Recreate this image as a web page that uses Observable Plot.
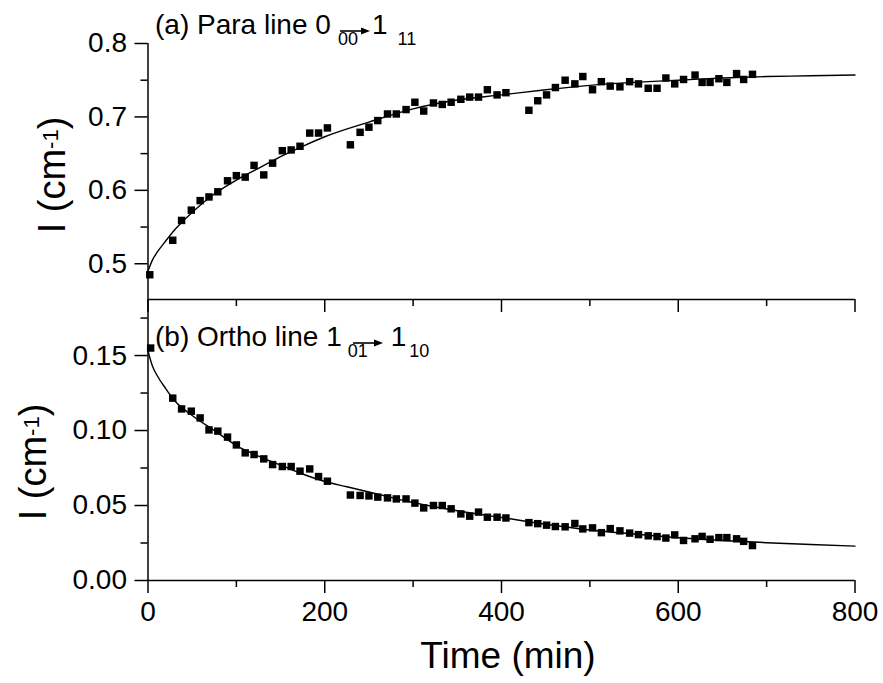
<!DOCTYPE html>
<html>
<head>
<meta charset="utf-8">
<script src="https://cdn.jsdelivr.net/npm/d3@7"></script>
<script src="https://cdn.jsdelivr.net/npm/@observablehq/plot@0.6"></script>
<style>
  html, body { margin: 0; padding: 0; background: white; }
  #wrap { position: relative; width: 883px; height: 683px; overflow: hidden; font-family: "Liberation Sans", Arial, sans-serif; color: black; }
  #wrap > svg { position: absolute; left: 0; }
  .ptitle { position: absolute; font-size: 28px; line-height: 1; white-space: nowrap; }
  .ptitle .sub { font-size: 18px; position: relative; top: 11px; }
  .arrow { position: absolute; overflow: visible; }
  .ytitle { position: absolute; font-size: 38px; line-height: 1; white-space: nowrap; transform: translate(-50%, -50%) rotate(-90deg); }
  .ytitle sup { font-size: 22px; position: relative; top: -7px; vertical-align: baseline; }
  .xtitle { position: absolute; font-size: 37px; line-height: 1; white-space: nowrap; transform: translate(-50%, 0); }
</style>
</head>
<body>
<div id="wrap">
  <div class="ptitle" style="left:155px; top:11px;">(a) Para line 0<span class="sub" style="margin-left:7px">00</span><span style="margin-left:14px">1</span><span class="sub" style="margin-left:10px">11</span></div>
  <svg class="arrow" width="34" height="12" style="left:339px; top:25px;"><line x1="1" y1="6" x2="24" y2="6" stroke="black" stroke-width="1.6"/><path d="M22,2.5 L31,6 L22,9.5 Z" fill="black"/></svg>
  <div class="ptitle" style="left:155px; top:323px;">(b) Ortho line 1<span class="sub" style="margin-left:6px">01</span><span style="margin-left:23px">1</span><span class="sub" style="margin-left:3px">10</span></div>
  <svg class="arrow" width="34" height="12" style="left:352px; top:337px;"><line x1="1" y1="6" x2="24" y2="6" stroke="black" stroke-width="1.6"/><path d="M22,2.5 L31,6 L22,9.5 Z" fill="black"/></svg>
  <div class="ytitle" style="left:52px; top:175px;">I (cm<sup>-1</sup>)</div>
  <div class="ytitle" style="left:33px; top:462px;">I (cm<sup>-1</sup>)</div>
  <div class="xtitle" style="left:508px; top:637px;">Time (min)</div>
</div>
<script>
// ---- data ----
const timeA = [2,28,38,49,59,69,79,90,100,110,120,131,141,152,162,172,183,193,203,229,240,250,260,271,281,292,302,312,323,333,343,354,364,374,384,395,405,431,441,451,461,472,483,492,503,513,523,534,545,555,566,576,586,596,606,619,627,636,646,655,666,674,684];
const paraI = [0.485,0.532,0.559,0.573,0.586,0.591,0.598,0.613,0.620,0.618,0.634,0.621,0.637,0.654,0.655,0.660,0.678,0.678,0.685,0.662,0.679,0.686,0.695,0.704,0.704,0.710,0.720,0.708,0.719,0.717,0.720,0.724,0.727,0.727,0.737,0.730,0.733,0.709,0.722,0.730,0.740,0.750,0.745,0.755,0.737,0.748,0.742,0.741,0.748,0.745,0.739,0.739,0.753,0.745,0.751,0.757,0.747,0.747,0.752,0.747,0.759,0.751,0.758];

const timeB = [3,28,38,49,59,69,79,90,100,110,120,131,141,152,162,172,183,193,203,229,240,250,260,271,281,292,302,312,323,333,343,354,364,374,384,395,405,431,441,451,461,472,483,492,503,513,523,534,545,555,566,576,586,596,606,619,627,636,646,655,666,674,684];
const orthoI = [0.155,0.1216,0.1144,0.1129,0.1084,0.1004,0.0996,0.0956,0.0904,0.0851,0.0840,0.0811,0.0773,0.0760,0.0760,0.0729,0.0744,0.0693,0.0662,0.0570,0.0567,0.0564,0.0556,0.0551,0.0544,0.0544,0.0516,0.0484,0.0500,0.0500,0.0478,0.0444,0.0429,0.0456,0.0422,0.0422,0.0417,0.0386,0.0379,0.0369,0.0360,0.0358,0.0380,0.0344,0.0351,0.0319,0.0346,0.0331,0.0316,0.0306,0.0298,0.0293,0.0283,0.0304,0.0267,0.0278,0.0294,0.0275,0.0286,0.0286,0.0278,0.0261,0.0233];

// fitted curves
const fitTimeA = [0,5,10,20,30,50,75,100,125,150,175,200,250,300,350,400,450,500,550,600,650,700,750,800];
const fitParaI = [0.490,0.505,0.515,0.531,0.546,0.570,0.595,0.614,0.630,0.646,0.660,0.673,0.693,0.711,0.723,0.730,0.737,0.743,0.747,0.750,0.753,0.755,0.756,0.757];
const fitTimeB = [0,5,10,20,30,50,75,100,125,150,175,200,225,250,300,350,400,450,500,550,600,650,700,750,800];
const fitOrthoI = [0.153,0.143,0.137,0.128,0.120,0.110,0.100,0.090,0.083,0.077,0.071,0.066,0.0625,0.059,0.052,0.0465,0.042,0.0375,0.0337,0.031,0.0285,0.0267,0.0252,0.024,0.0229];

// ticks
const xMajor = [0,200,400,600,800];
const xMinor = [100,300,500,700];
const yMajorA = [0.5,0.6,0.7,0.8];
const yMinorA = [0.55,0.65,0.75];
const yMajorB = [0,0.05,0.10,0.15];
const yMinorB = [0.025,0.075,0.125,0.175];

const xDomain = [0, 800];
const yDomainA = [0.4513, 0.8];
const yDomainB = [0, 0.1867];

const rowsA = timeA.map((t, i) => ({t, v: paraI[i]}));
const rowsB = timeB.map((t, i) => ({t, v: orthoI[i]}));
const fitA = fitTimeA.map((t, i) => ({t, v: fitParaI[i]}));
const fitB = fitTimeB.map((t, i) => ({t, v: fitOrthoI[i]}));

const blank = () => "";
const baseStyle = {background: "transparent", overflow: "visible", color: "black", fontFamily: "'Liberation Sans', Arial, sans-serif"};

function panel({rows, fit, yDomain, yMajor, yMinor, fmt, height, marginTop, marginBottom, xLabels}) {
  return Plot.plot({
    width: 883, height, marginLeft: 147.5, marginRight: 28.5, marginTop, marginBottom,
    x: {domain: xDomain},
    y: {domain: yDomain},
    style: baseStyle,
    marks: [
      Plot.axisY({ticks: yMajor, tickSize: 13, tickPadding: 8, tickFormat: d3.format(fmt), fontSize: 28, label: null, strokeWidth: 1.5}),
      Plot.axisY({ticks: yMinor, tickSize: 7, tickFormat: blank, label: null, strokeWidth: 1.5}),
      Plot.axisX({ticks: xMajor, tickSize: 13, tickPadding: 8, tickFormat: xLabels ? d3.format("d") : blank, fontSize: 28, label: null, strokeWidth: 1.5}),
      Plot.axisX({ticks: xMinor, tickSize: 7, tickFormat: blank, label: null, strokeWidth: 1.5}),
      Plot.ruleX([xDomain[0]], {strokeWidth: 1.5}),
      Plot.ruleY([yDomain[0]], {strokeWidth: 1.5}),
      Plot.line(fit, {x: "t", y: "v", curve: "monotone-x", stroke: "black", strokeWidth: 1.4}),
      Plot.dot(rows, {x: "t", y: "v", symbol: "square", r: 4.2, fill: "black", stroke: "none"})
    ]
  });
}

const wrap = document.getElementById("wrap");
const topPlot = panel({rows: rowsA, fit: fitA, yDomain: yDomainA, yMajor: yMajorA, yMinor: yMinorA, fmt: ".1f", height: 310, marginTop: 43, marginBottom: 11, xLabels: false});
topPlot.style.top = "0px";
const botPlot = panel({rows: rowsB, fit: fitB, yDomain: yDomainB, yMajor: yMajorB, yMinor: yMinorB, fmt: ".2f", height: 393, marginTop: 10, marginBottom: 103, xLabels: true});
botPlot.style.top = "290px";
wrap.insertBefore(botPlot, wrap.firstChild);
wrap.insertBefore(topPlot, wrap.firstChild);
</script>
</body>
</html>
